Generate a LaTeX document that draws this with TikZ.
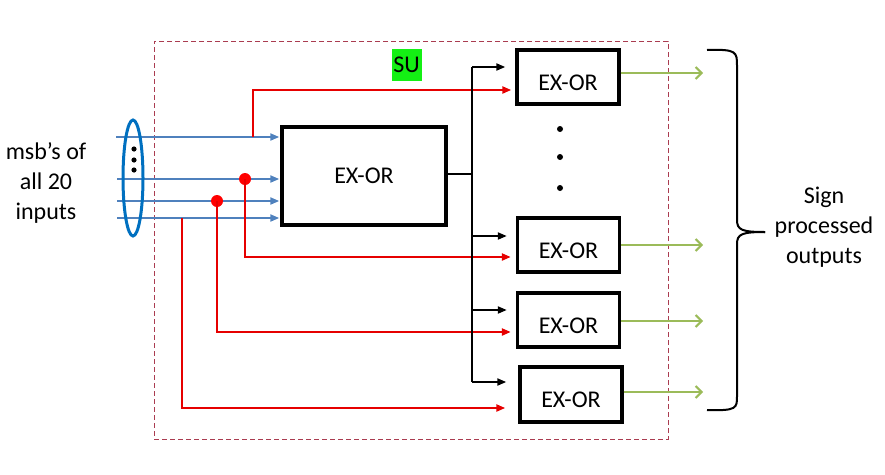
\documentclass[tikz,border=0pt]{standalone}
\usepackage{fontspec}
\setmainfont{Carlito}
\usetikzlibrary{arrows.meta,shapes.geometric}
\definecolor{inblue}{RGB}{79,129,189}
\definecolor{ellblue}{RGB}{0,112,192}
\definecolor{sigred}{RGB}{230,0,0}
\definecolor{dotred}{RGB}{255,0,0}
\definecolor{outgreen}{RGB}{155,187,89}
\definecolor{frame}{RGB}{170,60,80}
\definecolor{sugreen}{RGB}{20,240,20}
\tikzset{
  gate/.style={draw=black, line width=3.4pt, minimum width=102pt, minimum height=54pt, inner sep=0pt, font=\fontsize{24}{28}\selectfont},
  lowtext/.style={text height=26pt, text depth=0pt},
  inline/.style={draw=inblue, line width=2pt, -{Triangle[length=9pt,width=7pt]}},
  sigline/.style={draw=sigred, line width=2.2pt, -{Triangle[length=9pt,width=7pt]}},
  busline/.style={draw=black, line width=2.2pt},
  busarrow/.style={draw=black, line width=2pt, -{Triangle[length=9pt,width=7pt]}},
  outline/.style={draw=outgreen, line width=2pt, -{Straight Barb[length=6pt,width=12pt,line width=2pt]}},
  jdot/.style={circle, fill=dotred, inner sep=0pt, minimum size=12pt},
  label/.style={align=center, font=\fontsize{24}{30}\selectfont, inner sep=0pt},
}
\begin{document}
\begin{tikzpicture}[x=1pt,y=-1pt]
\useasboundingbox (0,0) rectangle (885,474);
% frame
\node[draw=frame, dashed, dash pattern=on 5pt off 3pt, line width=1pt, minimum width=514pt, minimum height=398pt, inner sep=0pt] (su) at (411,240) {};
\node[fill=sugreen, minimum width=30pt, minimum height=32pt, inner sep=0pt, font=\fontsize{24}{26}\selectfont] (sul) at (406.5,65) {SU};
% gates
\node[gate, minimum width=164pt, minimum height=98pt] (main) at (364,176) {EX-OR};
\node[gate, lowtext] (g1) at (568,77) {EX-OR};
\node[gate, lowtext] (g2) at (568.5,245) {EX-OR};
\node[gate, lowtext] (g3) at (568.5,320) {EX-OR};
\node[gate, lowtext, minimum height=55pt] (g4) at (571,394.5) {EX-OR};
% dots
\fill (560,129) circle (3pt) (560,157) circle (3pt) (560,188) circle (3pt);
% inputs
\coordinate (i1) at (116,137);
\coordinate (i2) at (117,179);
\coordinate (i3) at (117,201);
\coordinate (i4) at (117,218);
\foreach \i in {1,2,3,4} \draw[inline] (i\i) -- ([xshift=-1pt]main.west |- i\i);
\node[draw=ellblue, line width=3pt, ellipse, minimum width=20pt, minimum height=116pt, inner sep=0pt] (grp) at (133,178) {};
\fill (134,149) circle (2.6pt) (134,160) circle (2.6pt) (134,170) circle (2.6pt);
% red signal lines
\coordinate (r1) at (253,137);
\coordinate (r1t) at (253,90);
\node[jdot] (d2) at (245,179) {};
\node[jdot] (d3) at (217,201) {};
\coordinate (r4) at (182,218);
\draw[sigline] (r1) -- (r1t) -- ([xshift=-4pt]g1.west |- r1t);
\draw[sigline] (d2.center) |- ([xshift=-5pt]g2.west |- 0,257);
\draw[sigline] (d3.center) |- ([xshift=-5pt]g3.west |- 0,332);
\draw[sigline] (r4) |- ([xshift=-13pt]g4.west |- 0,408);
% bus
\coordinate (bt) at (472,67);
\coordinate (bb) at (472,382);
\coordinate (bm) at (472,174);
\draw[busline] (main.east |- bm) -- (bm);
\draw[busline] (bt) -- (bb);
\draw[busarrow] (bt) -- ([xshift=-10pt]g1.west |- bt);
\draw[busarrow] (472,236) -- ([xshift=-9pt]g2.west |- 0,236);
\draw[busarrow] (472,310) -- ([xshift=-9pt]g3.west |- 0,310);
\draw[busarrow] (bb) -- ([xshift=-12pt]g4.west |- bb);
% outputs
\coordinate (o1) at (703,73);
\coordinate (o2) at (703,245);
\coordinate (o3) at (703,321);
\coordinate (o4) at (703,392);
\draw[outline] (g1.east |- o1) -- (o1);
\draw[outline] (g2.east |- o2) -- (o2);
\draw[outline] (g3.east |- o3) -- (o3);
\draw[outline] (g4.east |- o4) -- (o4);
% brace
\draw[line width=2pt] (707,50) .. controls (737,49) and (737,52) .. (737,66) -- (737,220) .. controls (737,230) and (742,232) .. (765,232);
\draw[line width=2pt] (765,232) .. controls (742,232) and (737,234) .. (737,244) -- (737,396) .. controls (737,408) and (737,411) .. (707,410);
% labels
\node[label] (msb) at (46,183) {\fontsize{24}{32}\selectfont msb’s of\\all 20\\inputs};
\node[label] (spo) at (824,227) {Sign\\processed\\outputs};
\end{tikzpicture}
\end{document}
